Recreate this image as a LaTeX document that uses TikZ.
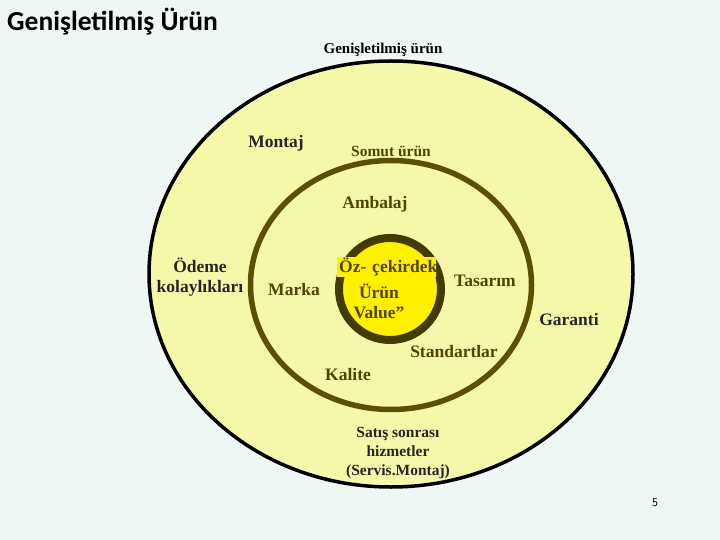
\documentclass[tikz,border=0pt]{standalone}
\usepackage{fontspec}
\setmainfont{Liberation Serif}
\newfontfamily\titlefont{Carlito}
\usetikzlibrary{positioning,shapes.geometric}
\definecolor{slidebg}{HTML}{EEF7F4}
\definecolor{ringfill}{HTML}{F5F8A8}
\definecolor{ringolive}{HTML}{5A5000}
\definecolor{corefill}{HTML}{FFF000}
\definecolor{coreline}{HTML}{433B00}
\definecolor{txtolive}{HTML}{4E4600}

\begin{document}
\begin{tikzpicture}[
  x=1pt, y=-1pt,
  ring/.style={ellipse, inner sep=0pt, fill=ringfill},
  lyr/.style={font=\fontsize{17.5}{20}\selectfont\bfseries, text=txtolive, align=center, inner sep=0pt},
  ext/.style={font=\fontsize{17.5}{20.5}\selectfont\bfseries, text=black!85, align=center, inner sep=0pt},
  capbox/.style={font=\fontsize{15.5}{19}\selectfont\bfseries, align=center, inner sep=0pt},
]
  \fill[slidebg] (0,0) rectangle (720,540);
  \useasboundingbox (0,0) rectangle (720,540);

  %% ── Halkalar ──
  \node[ring, draw=black, line width=3.5pt, minimum width=484pt, minimum height=426pt] (genis) at (391,274) {};
  \node[ring, draw=ringolive, line width=5.5pt, minimum width=281pt, minimum height=249pt] (somut) at (391,285) {};
  \node[circle, draw=coreline, line width=8pt, fill=corefill, inner sep=0pt, minimum size=102pt] (oz) at (390,289) {};

  %% ── Başlık ──
  \node[font=\titlefont\fontsize{27.5}{30}\selectfont\bfseries, anchor=west, inner sep=0pt] (baslik) at (7,22) {Genişletilmiş Ürün};
  \node[font=\fontsize{15}{17}\selectfont\bfseries, inner sep=0pt] (genislbl) at (383,50) {Genişletilmiş ürün};

  %% ── Genişletilmiş ürün katmanı ──
  \node[ext] (montaj) at (276,143) {Montaj};
  \node[ext] (odeme) at (200,277) {Ödeme\\kolaylıkları};
  \node[ext] (garanti) at (569,320) {Garanti};
  \node[capbox, text=black!85] (satis) at (398,453) {Satış sonrası\\hizmetler\\(Servis.Montaj)};

  %% ── Somut ürün katmanı ──
  \node[capbox, text=txtolive] (somutlbl) at (391,151) {Somut ürün};
  \node[lyr] (ambalaj) at (375,204) {Ambalaj};
  \node[lyr] (marka) at (294,290) {Marka};
  \node[lyr] (tasarim) at (485,281) {Tasarım};
  \node[lyr] (standart) at (454,352) {Standartlar};
  \node[lyr] (kalite) at (348,375) {Kalite};

  %% ── Öz (ilk satır kutusu halkanın üstünde, sağı kesik) ──
  \begin{scope}
    \clip (337,257) rectangle (436,277);
    \node[lyr, fill=corefill, anchor=west, minimum height=20pt, minimum width=110pt, inner xsep=2pt, align=left, text width=106pt] (ozlbl) at (337,267) {Öz- çekirdek};
  \end{scope}
  \node[lyr] (urunlbl) at (379,301) {Ürün\\Value”};

  \node[font=\sffamily\fontsize{12}{14}\selectfont, inner sep=0pt] (sayfa) at (655,503) {5};
\end{tikzpicture}
\end{document}
